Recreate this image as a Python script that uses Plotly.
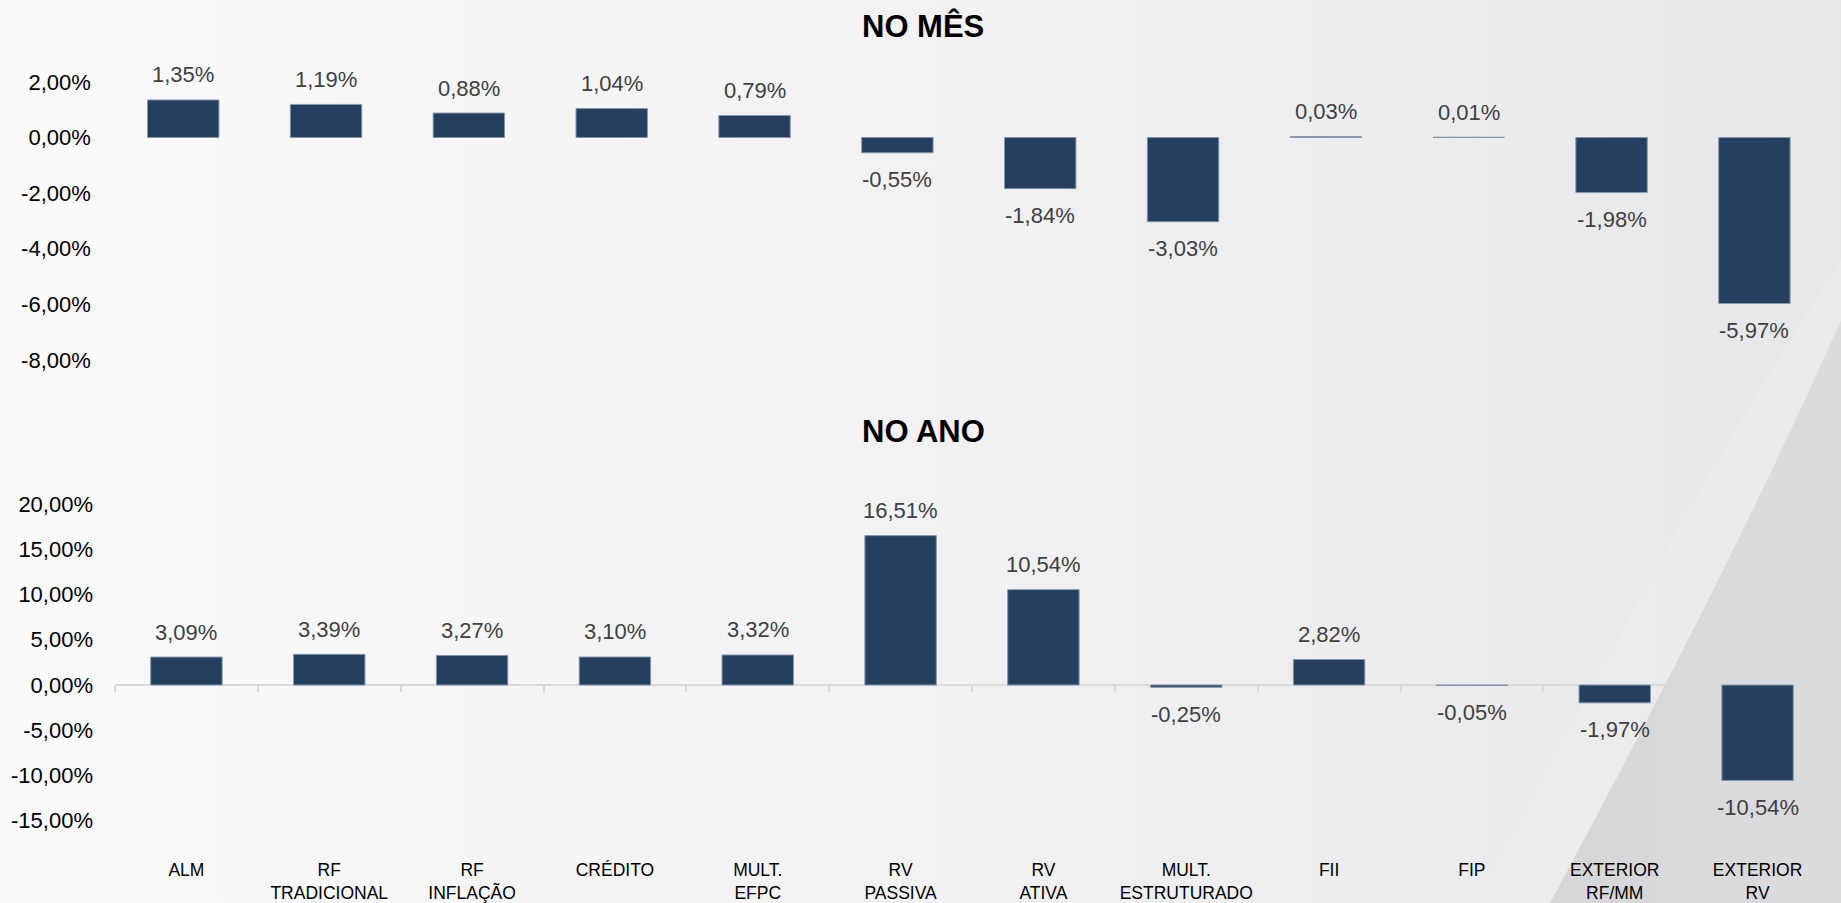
import base64
import plotly.graph_objects as go

# ---------------- data ----------------
categories = ["ALM", "RF<br>TRADICIONAL", "RF<br>INFLAÇÃO", "CRÉDITO", "MULT.<br>EFPC",
              "RV<br>PASSIVA", "RV<br>ATIVA", "MULT.<br>ESTRUTURADO", "FII", "FIP",
              "EXTERIOR<br>RF/MM", "EXTERIOR<br>RV"]
no_mes = [1.35, 1.19, 0.88, 1.04, 0.79, -0.55, -1.84, -3.03, 0.03, 0.01, -1.98, -5.97]
no_ano = [3.09, 3.39, 3.27, 3.10, 3.32, 16.51, 10.54, -0.25, 2.82, -0.05, -1.97, -10.54]

mes_tickvals = [2, 0, -2, -4, -6, -8]
mes_ticktext = ["2,00%", "0,00%", "-2,00%", "-4,00%", "-6,00%", "-8,00%"]
ano_tickvals = [20, 15, 10, 5, 0, -5, -10, -15]
ano_ticktext = ["20,00%", "15,00%", "10,00%", "5,00%", "0,00%", "-5,00%", "-10,00%", "-15,00%"]

title_mes = "NO MÊS"
title_ano = "NO ANO"

# ---------------- style ----------------
W, H = 1841, 903
FONT = "Liberation Sans, Arial, sans-serif"
BAR = "#253f60"
BAR_EDGE = "#8596ad"
LABEL_COLOR = "#404040"

mes_range = [-8.6, 2.6]
ano_range = [-17.5, 22.5]
mes_dom = [0.5829, 0.9278]
ano_dom = [0.0660, 0.4669]


def fmt(v):
    return f"{v:.2f}".replace(".", ",") + "%"


# background image (gradient + diagonal wedge)
svg = f"""<svg xmlns='http://www.w3.org/2000/svg' width='{W}' height='{H}' viewBox='0 0 {W} {H}' preserveAspectRatio='none'>
<defs>
<linearGradient id='g' x1='0' y1='0' x2='1' y2='0'>
<stop offset='0' stop-color='#fafafa'/>
<stop offset='0.55' stop-color='#f1f1f3'/>
<stop offset='1' stop-color='#e7e7e9'/>
</linearGradient>
<linearGradient id='w' x1='0' y1='0' x2='1' y2='0'>
<stop offset='0' stop-color='#d6d6d9'/>
<stop offset='1' stop-color='#dcdcdf'/>
</linearGradient>
</defs>
<rect width='{W}' height='{H}' fill='url(#g)'/>
<path d='M1480,903 Q1660,540 1841,260 L1841,903 Z' fill='#ececee' opacity='0.55'/>
<path d='M1550,903 Q1735,560 1841,320 L1841,903 Z' fill='url(#w)'/>
</svg>"""
bg_uri = "data:image/svg+xml;base64," + base64.b64encode(svg.encode("utf-8")).decode("ascii")

fig = go.Figure()

fig.add_trace(go.Bar(x=categories, y=no_mes, width=0.5, xaxis="x", yaxis="y",
                     marker=dict(color=BAR, line=dict(color=BAR_EDGE, width=1)),
                     hoverinfo="skip", showlegend=False))
fig.add_trace(go.Bar(x=categories, y=no_ano, width=0.5, xaxis="x2", yaxis="y2",
                     marker=dict(color=BAR, line=dict(color=BAR_EDGE, width=1)),
                     hoverinfo="skip", showlegend=False))
# empty trace to register the zero-line axis
fig.add_trace(go.Scatter(x=[], y=[], xaxis="x3", yaxis="y2", showlegend=False, hoverinfo="skip"))

annotations = []
for cat, v in zip(categories, no_mes):
    annotations.append(dict(x=cat, y=v, xref="x", yref="y", text=fmt(v), showarrow=False,
                            yanchor="middle", yshift=25 if v >= 0 else -27,
                            font=dict(family=FONT, size=22, color=LABEL_COLOR)))
for cat, v in zip(categories, no_ano):
    annotations.append(dict(x=cat, y=v, xref="x2", yref="y2", text=fmt(v), showarrow=False,
                            yanchor="middle", yshift=25 if v >= 0 else -27,
                            font=dict(family=FONT, size=22, color=LABEL_COLOR)))
annotations.append(dict(x=923 / W, y=(H - 26) / H, xref="paper", yref="paper", text=f"<b>{title_mes}</b>",
                        showarrow=False, xanchor="center", yanchor="middle",
                        font=dict(family=FONT, size=31, color="#000000")))
annotations.append(dict(x=923 / W, y=(H - 431) / H, xref="paper", yref="paper", text=f"<b>{title_ano}</b>",
                        showarrow=False, xanchor="center", yanchor="middle",
                        font=dict(family=FONT, size=31, color="#000000")))

zero_pos = ano_dom[0] + (0 - ano_range[0]) / (ano_range[1] - ano_range[0]) * (ano_dom[1] - ano_dom[0])
boundaries = [i - 0.5 for i in range(len(categories) + 1)]

fig.update_layout(
    width=W, height=H,
    margin=dict(l=0, r=0, t=0, b=0),
    paper_bgcolor="#f3f3f4",
    plot_bgcolor="rgba(0,0,0,0)",
    font=dict(family=FONT, color="#000000"),
    bargap=0.5,
    showlegend=False,
    annotations=annotations,
    images=[dict(source=bg_uri, xref="paper", yref="paper", x=0, y=1, sizex=1, sizey=1,
                 xanchor="left", yanchor="top", sizing="stretch", layer="below")],
    xaxis=dict(domain=[111.8 / W, 1825.8 / W], anchor="y", type="category", range=[-0.5, 11.5],
               showticklabels=False, showgrid=False, zeroline=False, showline=False, ticks=""),
    yaxis=dict(domain=mes_dom, anchor="x", range=mes_range, tickvals=mes_tickvals, ticktext=mes_ticktext,
               showgrid=False, zeroline=False, showline=False, ticks="", ticklabelstandoff=20,
               tickfont=dict(family=FONT, size=22, color="#000000")),
    xaxis2=dict(domain=[115 / W, 1829 / W], anchor="y2", type="category", range=[-0.5, 11.5],
                showgrid=False, zeroline=False, showline=False, ticks="", ticklabelstandoff=14,
                tickfont=dict(family=FONT, size=17.5, color="#000000")),
    yaxis2=dict(domain=ano_dom, anchor="x2", range=ano_range, tickvals=ano_tickvals, ticktext=ano_ticktext,
                showgrid=False, zeroline=False, showline=False, ticks="", ticklabelstandoff=21,
                tickfont=dict(family=FONT, size=22, color="#000000")),
    xaxis3=dict(overlaying="x2", anchor="free", position=zero_pos, side="bottom", range=[-0.5, 11.5],
                tickvals=boundaries, showticklabels=False, showgrid=False, zeroline=False,
                showline=True, linecolor="#d9d9d9", linewidth=2, ticks="outside", ticklen=6,
                tickcolor="#d9d9d9", tickwidth=1.5, layer="below traces"),
)

fig.write_html("out.html", config={"displayModeBar": False},
               post_script="document.body.style.margin='0';document.body.style.overflow='hidden';")
